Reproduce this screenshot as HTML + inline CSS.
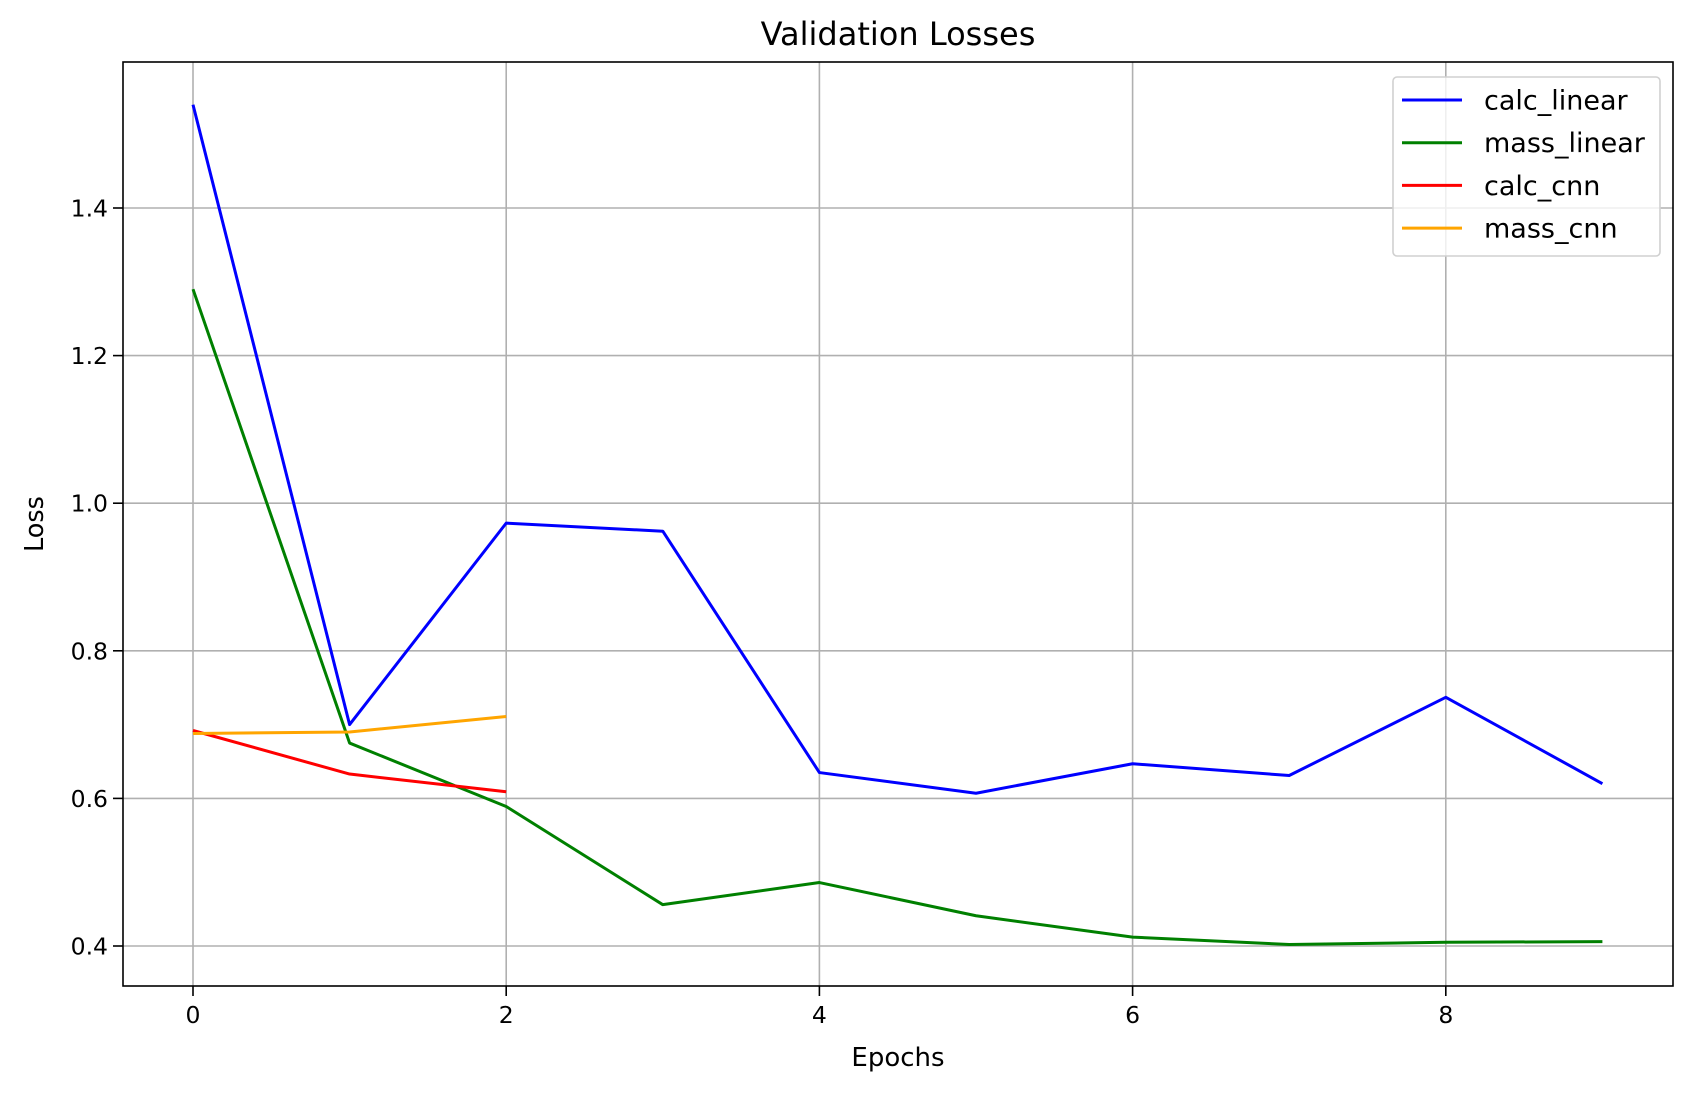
<!DOCTYPE html>
<html><head><meta charset="utf-8"><style>body{margin:0;background:#fff}svg{display:block}text{font-family:"DejaVu Sans","Liberation Sans",sans-serif;fill:#000}</style></head>
<body>
<svg id="chart" width="1692" height="1093" viewBox="0 0 1692 1093" xmlns="http://www.w3.org/2000/svg"></svg>
<script>
const epochs=[0,1,2,3,4,5,6,7,8,9];
const calcLinear=[1.54,0.70,0.973,0.962,0.635,0.607,0.647,0.631,0.737,0.62];
const massLinear=[1.29,0.675,0.589,0.456,0.486,0.441,0.412,0.402,0.405,0.406];
const calcCnn=[0.692,0.633,0.609];
const massCnn=[0.688,0.690,0.711];
const xTicks=[0,2,4,6,8];
const yTicks=[0.4,0.6,0.8,1.0,1.2,1.4];
const yTickLabels=["0.4","0.6","0.8","1.0","1.2","1.4"];
const seriesNames=["calc_linear","mass_linear","calc_cnn","mass_cnn"];
const seriesColors=["#0000ff","#008000","#ff0000","#ffa500"];

const L=123,R=1673,T=62,B=986;
const x=v=>193+v*156.6;
const y=v=>946-(v-0.4)*738/1.0;
const svg=document.getElementById('chart');
const NS='http://www.w3.org/2000/svg';
function mk(tag,attrs,parent){const e=document.createElementNS(NS,tag);for(const k in attrs)e.setAttribute(k,attrs[k]);(parent||svg).appendChild(e);return e;}

const grid=mk('g',{});


xTicks.forEach(t=>{
  const l=mk('line',{x1:x(t),x2:x(t),y1:T,y2:B,stroke:'#b0b0b0','stroke-width':1.6},grid);
  
  
  const tk=mk('line',{x1:x(t),x2:x(t),y1:B,y2:B+10,stroke:'#000','stroke-width':1.6});
  
  
  const tx=mk('text',{x:x(t),y:B+37,'text-anchor':'middle','font-size':23.5});
  tx.textContent=t;
  
  
});
yTicks.forEach((t,i)=>{
  const l=mk('line',{x1:L,x2:R,y1:y(t),y2:y(t),stroke:'#b0b0b0','stroke-width':1.6},grid);
  
  
  const tk=mk('line',{x1:L-10,x2:L,y1:y(t),y2:y(t),stroke:'#000','stroke-width':1.6});
  
  
  const tx=mk('text',{x:L-15,y:y(t)+8.5,'text-anchor':'end','font-size':23.5});
  tx.textContent=yTickLabels[i];
  
  
});

const data=[calcLinear,massLinear,calcCnn,massCnn];
data.forEach((s,i)=>{
  const p=mk('polyline',{points:s.map((v,j)=>x(epochs[j])+','+y(v)).join(' '),fill:'none',stroke:seriesColors[i],'stroke-width':3,'stroke-linejoin':'round'});
  
  
});

const frame=mk('rect',{x:L,y:T,width:R-L,height:B-T,fill:'none',stroke:'#000','stroke-width':1.6});



const title=mk('text',{x:898,y:45,'text-anchor':'middle','font-size':32});
title.textContent='Validation Losses';


const xl=mk('text',{x:898,y:1066,'text-anchor':'middle','font-size':26});
xl.textContent='Epochs';


const yl=mk('text',{x:0,y:0,'text-anchor':'middle','font-size':25.5,transform:'translate(43,524) rotate(-90)'});
yl.textContent='Loss';



const lg=mk('g',{});


mk('rect',{x:1393,y:77,width:267,height:179,rx:4,fill:'rgba(255,255,255,0.8)',stroke:'#d0d0d0','stroke-width':1.6},lg);
seriesNames.forEach((n,i)=>{
  const g=mk('g',{},lg);
  
  
  const yy=100+i*42.7;
  mk('line',{x1:1402,x2:1462,y1:yy,y2:yy,stroke:seriesColors[i],'stroke-width':3},g);
  const t=mk('text',{x:1484,y:yy+9.5,'font-size':27},g);
  t.textContent=n;
});
</script>
</body></html>
